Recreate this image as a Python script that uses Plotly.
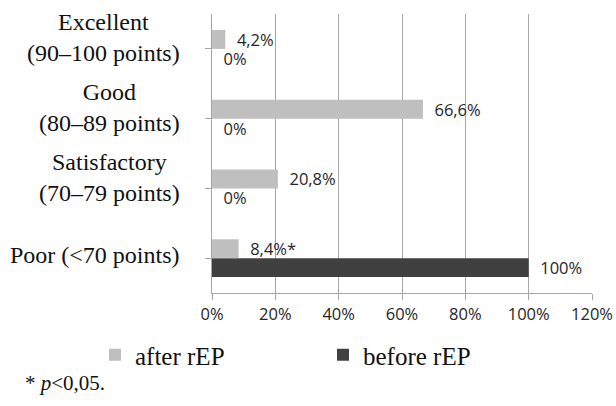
import plotly.graph_objects as go

# Data (bottom to top)
categories = ["Poor (&lt;70 points)", "Satisfactory<br>(70–79 points)",
              "Good<br>(80–89 points)", "Excellent<br>(90–100 points)"]
after_rep = [8.4, 20.8, 66.6, 4.2]
before_rep = [100, 0, 0, 0]
after_marks = ["*", "", "", ""]
x_ticks = [0, 20, 40, 60, 80, 100, 120]
x_tick_labels = ["0%", "20%", "40%", "60%", "80%", "100%", "120%"]


def fmt(v):
    s = ("%g" % v).replace(".", ",")
    return s + "%"


after_text = ["  " + fmt(v) + m for v, m in zip(after_rep, after_marks)]
before_text = ["  " + fmt(v) for v in before_rep]

cat_ids = list(range(len(categories)))

W, H = 616, 406
ML, MR, MT, MB = 212, 24, 14, 113
LABEL_FONT = dict(family="Open Sans, sans-serif", size=16.5, color="#262626")
SERIF = "Liberation Serif, Times New Roman, serif"

fig = go.Figure()
fig.add_trace(go.Bar(
    y=cat_ids, x=before_rep, orientation="h", name="before rEP",
    marker=dict(color="#404040", line=dict(width=0)),
    text=before_text, textposition="outside", textfont=LABEL_FONT,
    outsidetextfont=LABEL_FONT, constraintext="none",
    cliponaxis=False, legend="legend2",
))
fig.add_trace(go.Bar(
    y=cat_ids, x=after_rep, orientation="h", name="after rEP",
    marker=dict(color="#bfbfbf", line=dict(width=0)),
    text=after_text, textposition="outside", textfont=LABEL_FONT,
    outsidetextfont=LABEL_FONT, constraintext="none",
    cliponaxis=False, legend="legend",
))

# Category labels (centered multi-line blocks)
for i, c in enumerate(categories):
    two_line = "<br>" in c
    fig.add_annotation(
        x=0, xref="paper", y=i, yref="y", text=c, showarrow=False,
        xanchor="right", yanchor="middle", align="center",
        xshift=-30, yshift=11 if two_line else 3,
        font=dict(family=SERIF, size=24, color="#111111"),
    )

plot_w = W - ML - MR
plot_h = H - MT - MB

# Footnote
fig.add_annotation(
    x=(23 - ML) / plot_w, xref="paper", y=((H - MB) - 383) / plot_h, yref="paper",
    text="* <i>p</i>&lt;0,05.", showarrow=False,
    xanchor="left", yanchor="middle",
    font=dict(family=SERIF, size=21, color="#111111"),
)

legend_common = dict(
    orientation="h", xref="container", yref="container",
    y=1 - 355 / H, xanchor="left", yanchor="middle",
    font=dict(family=SERIF, size=25, color="#111111"),
    bgcolor="rgba(0,0,0,0)",
)

fig.update_layout(
    width=W, height=H,
    margin=dict(l=ML, r=MR, t=MT, b=MB, autoexpand=False),
    paper_bgcolor="white", plot_bgcolor="white",
    barmode="group", bargap=0.46, bargroupgap=0,
    showlegend=True,
    legend=dict(x=95 / W, **legend_common),
    legend2=dict(x=323 / W, **legend_common),
    xaxis=dict(
        range=[0, 120], tickvals=x_ticks, ticktext=x_tick_labels,
        showgrid=True, gridcolor="#a6a6a6", gridwidth=1,
        zeroline=False, showline=True, linecolor="#a6a6a6", linewidth=1,
        ticks="outside", ticklen=6, tickcolor="#a6a6a6",
        tickfont=dict(family="Open Sans, sans-serif", size=16.5, color="#262626"),
        fixedrange=True, automargin=False,
    ),
    yaxis=dict(
        range=[-0.5, 3.5], tickmode="array", tickvals=cat_ids,
        ticktext=["" for _ in categories], showticklabels=False,
        showgrid=False, zeroline=False, showline=True,
        linecolor="#a6a6a6", linewidth=1,
        ticks="outside", ticklen=6, tickcolor="#a6a6a6",
        tickson="boundaries", fixedrange=True, automargin=False,
    ),
)

fig.write_html(
    "out.html",
    config={"displayModeBar": False},
    post_script="document.body.style.margin='0';",
)
